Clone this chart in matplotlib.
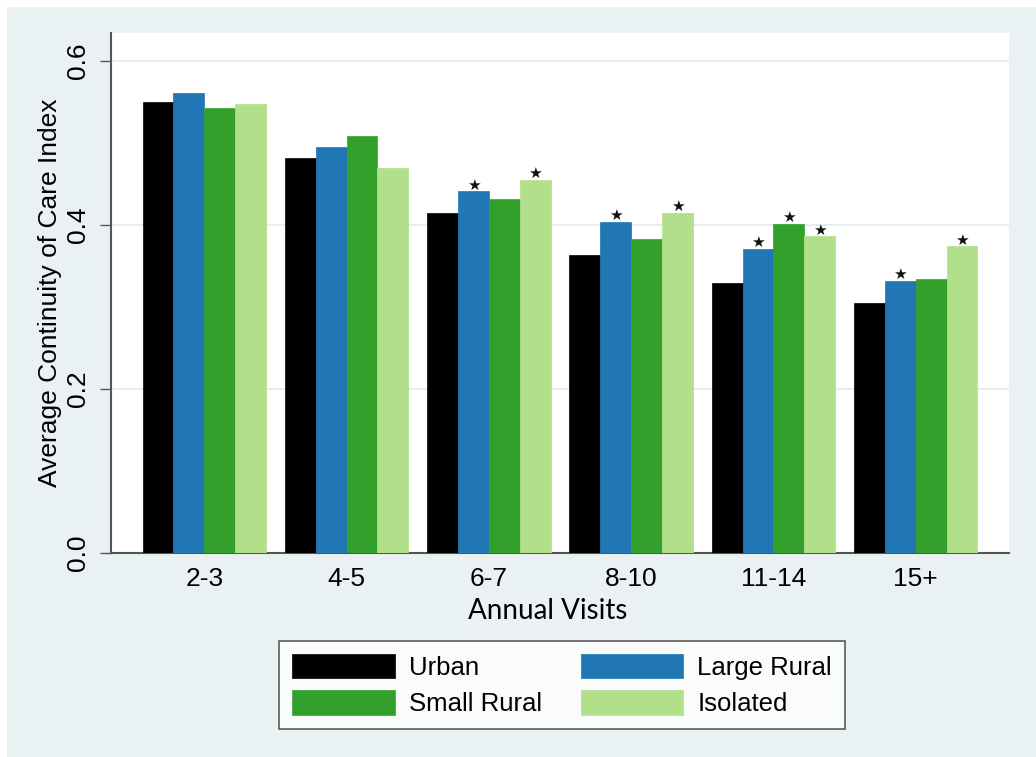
import numpy as np
import matplotlib.pyplot as plt
from matplotlib.patches import Rectangle

# data
groups = ['2-3', '4-5', '6-7', '8-10', '11-14', '15+']
series = ['Urban', 'Large Rural', 'Small Rural', 'Isolated']
urban = [0.550, 0.481, 0.414, 0.363, 0.329, 0.305]
large_rural = [0.561, 0.495, 0.441, 0.404, 0.371, 0.332]
small_rural = [0.543, 0.509, 0.432, 0.383, 0.401, 0.334]
isolated = [0.547, 0.469, 0.455, 0.415, 0.386, 0.374]
# significance stars (vs urban)
star_large = [0, 0, 1, 1, 1, 1]
star_small = [0, 0, 0, 0, 1, 0]
star_isol = [0, 0, 1, 1, 1, 1]

colors = ['#000000', '#2077b4', '#33a02c', '#b2df8a']
bg = '#eaf1f3'

values = [urban, large_rural, small_rural, isolated]
stars = [[0] * 6, star_large, star_small, star_isol]

fig = plt.figure(figsize=(10.36, 7.57), dpi=100)
fig.patch.set_facecolor('white')
fig.patches.append(Rectangle((7 / 1036, 0), 1, 1 - 7 / 757, transform=fig.transFigure,
                             facecolor=bg, edgecolor='none', zorder=-10))

ax = fig.add_axes([111 / 1036, 1 - 553 / 757, (1009 - 111) / 1036, (553 - 33) / 757])
ax.set_facecolor('white')

x = np.arange(len(groups))
w = 0.217
handles = []
for i, (vals, c) in enumerate(zip(values, colors)):
    pos = x + (i - 1.5) * w
    b = ax.bar(pos, vals, width=w, color=c, edgecolor=c, linewidth=0.5, label=series[i], zorder=3)
    handles.append(b)
    for p, v, s in zip(pos, vals, stars[i]):
        if s:
            ax.annotate('★', (p, v), xytext=(0, 4.5), textcoords='offset points',
                        ha='center', va='center', fontsize=11, color='#111111', zorder=4)

ax.set_xlim(-0.656, 5.656)
ax.set_ylim(0, 0.634)
ax.set_yticks([0.0, 0.2, 0.4, 0.6])
ax.set_yticklabels(['0.0', '0.2', '0.4', '0.6'], rotation=90, va='center',
                   fontsize=19, family='Liberation Sans')
ax.set_xticks(x)
ax.set_xticklabels(groups, fontsize=19, family='Liberation Sans')
ax.tick_params(axis='x', length=0, pad=10)
ax.tick_params(axis='y', length=8, width=1, color='#555555', pad=7)
ax.grid(axis='y', color='#e6eef2', linewidth=1.5, zorder=0)
for s in ['top', 'right']:
    ax.spines[s].set_visible(False)
for s in ['left', 'bottom']:
    ax.spines[s].set_color('#555555')
    ax.spines[s].set_linewidth(1.5)

ax.set_ylabel('Average Continuity of Care Index', fontsize=19, family='Liberation Sans')
ax.yaxis.set_label_coords(-(111 - 62) / 898, 0.5)
ax.set_xlabel('Annual Visits', fontsize=20, family='Lato',
              bbox=dict(facecolor='#edf1f6', edgecolor='none', pad=2))
ax.xaxis.set_label_coords((548 - 111) / 898, -(611 - 553) / 520)
ax.xaxis.label.set_va('center')

# row-wise legend order like the original: Urban, Large Rural / Small Rural, Isolated
order = [0, 2, 1, 3]
leg = fig.legend([handles[k] for k in order], [series[k] for k in order],
                 loc='center', bbox_to_anchor=(562 / 1036, 1 - 685 / 757), ncol=2,
                 prop={'family': 'Liberation Sans', 'size': 18.5}, frameon=True, fancybox=False,
                 handlelength=4, handleheight=1.1, handletextpad=0.55, columnspacing=1.5,
                 labelspacing=0.4, borderpad=0.5)
leg.get_frame().set_edgecolor('#333333')
leg.get_frame().set_linewidth(1.2)

fig.savefig('out.png', dpi=100, facecolor='white')
